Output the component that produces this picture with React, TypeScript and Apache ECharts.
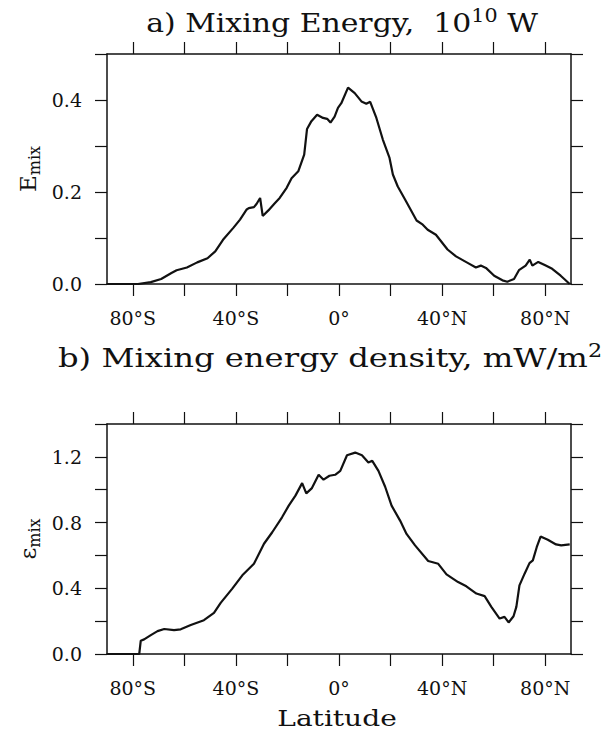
import React, { useEffect, useRef } from "react";
import * as echarts from "echarts";

// Panel a: mixing energy (10^10 W) vs latitude
const latA = [-90, -78, -73, -69, -65, -63, -59, -55, -51, -48, -45, -41, -38.4, -35.8, -35, -33, -32, -30.6, -29.6, -27.4, -25, -23, -20.3, -18.4, -15.8, -13.5, -12.4, -10.7, -8.5, -6.2, -4.6, -3.3, -1.7, -0.4, 0.9, 3.5, 6.1, 8.7, 10.6, 12.1, 14.5, 17, 19.6, 20.9, 22.8, 26, 30.1, 32.5, 34.4, 37.6, 42.1, 45.4, 49.9, 53.1, 55, 57, 60.2, 63.4, 65.3, 67.9, 69.8, 72.4, 74, 75, 77.3, 80.2, 82.7, 86, 89.5];
const eMix = [0, 0, 0.004, 0.011, 0.024, 0.03, 0.036, 0.047, 0.056, 0.071, 0.096, 0.122, 0.14, 0.162, 0.165, 0.167, 0.174, 0.187, 0.148, 0.16, 0.175, 0.187, 0.209, 0.23, 0.245, 0.281, 0.337, 0.354, 0.368, 0.361, 0.359, 0.351, 0.364, 0.383, 0.393, 0.427, 0.415, 0.397, 0.392, 0.396, 0.361, 0.314, 0.274, 0.238, 0.212, 0.18, 0.138, 0.129, 0.118, 0.107, 0.075, 0.06, 0.046, 0.036, 0.04, 0.035, 0.018, 0.008, 0.005, 0.011, 0.03, 0.04, 0.053, 0.04, 0.048, 0.04, 0.033, 0.018, 0];

// Panel b: mixing energy density (mW/m^2) vs latitude
const latB = [-90, -77.5, -76.9, -75.6, -73, -70.4, -67.8, -64, -61.4, -57.5, -52.4, -48.5, -45.9, -41.4, -37.5, -33, -29.1, -25.9, -22.1, -19.5, -16.9, -14.3, -12.7, -10.5, -7.9, -6, -3.7, -1.5, 0.5, 3.1, 6.3, 8.9, 11.4, 12.9, 15.3, 17.9, 20.4, 23.7, 26.2, 29.5, 34.6, 38.5, 41.7, 46.2, 49.4, 53.3, 56.5, 59.1, 62.3, 64.2, 65.8, 67.7, 68.8, 70, 72, 73.9, 75.2, 76.7, 78.2, 81, 84.2, 86.2, 89.5];
const epsMix = [0, 0, 0.081, 0.089, 0.115, 0.139, 0.152, 0.145, 0.15, 0.176, 0.206, 0.25, 0.311, 0.398, 0.479, 0.549, 0.671, 0.741, 0.832, 0.903, 0.964, 1.04, 0.978, 1.01, 1.091, 1.061, 1.085, 1.091, 1.115, 1.21, 1.226, 1.21, 1.166, 1.176, 1.115, 1.018, 0.903, 0.812, 0.731, 0.661, 0.566, 0.549, 0.485, 0.438, 0.412, 0.368, 0.352, 0.287, 0.216, 0.226, 0.192, 0.23, 0.287, 0.418, 0.489, 0.553, 0.57, 0.65, 0.715, 0.695, 0.667, 0.661, 0.667];

// Axis ticks and labels
const xTickValues = [-80, -60, -40, -20, 0, 20, 40, 60, 80];
const xLabelValues = [-80, -40, 0, 40, 80];

const FONT = "DejaVu Serif";
const BLACK = "#111";

const latFmt = (v: number) => (v < 0 ? `${-v}°S` : v > 0 ? `${v}°N` : "0°");

function xAxes(gridIndex: number) {
  const common = {
    type: "value" as const,
    gridIndex,
    min: -90,
    max: 90,
    splitLine: { show: false },
    axisLine: { show: true, onZero: false, lineStyle: { color: BLACK, width: 1.5 } },
    axisTick: { show: true, inside: false, length: 12, customValues: xTickValues, lineStyle: { color: BLACK, width: 1.2 } },
  };
  return [
    {
      ...common,
      position: "bottom",
      axisLabel: {
        show: true,
        customValues: xLabelValues,
        formatter: latFmt,
        margin: 24,
        fontFamily: FONT,
        fontSize: 19,
        color: BLACK,
      },
    },
    { ...common, position: "top", axisLabel: { show: false } },
  ];
}

function yAxes(gridIndex: number, max: number, interval: number, labelEvery: number) {
  const common = {
    type: "value" as const,
    gridIndex,
    min: 0,
    max,
    interval,
    splitLine: { show: false },
    axisLine: { show: true, onZero: false, lineStyle: { color: BLACK, width: 1.5 } },
    axisTick: { show: true, inside: false, length: 12, lineStyle: { color: BLACK, width: 1.2 } },
  };
  return [
    {
      ...common,
      position: "left",
      axisLabel: {
        show: true,
        margin: 25,
        fontFamily: FONT,
        fontSize: 19,
        color: BLACK,
        formatter: (v: number) => (Math.round(v / interval) % labelEvery === 0 ? v.toFixed(1) : ""),
      },
    },
    { ...common, position: "right", axisLabel: { show: false } },
  ];
}

export default function App() {
  const ref = useRef<HTMLDivElement>(null);
  useEffect(() => {
    if (!ref.current) return;
    const chart = echarts.init(ref.current, null, { renderer: "svg" });
    const richTitle = {
      t: { fontFamily: FONT, fontSize: 26, lineHeight: 32, fill: BLACK },
      s: { fontFamily: FONT, fontSize: 18, lineHeight: 18, verticalAlign: "top", fill: BLACK },
    };
    const richName = {
      e: { fontFamily: FONT, fontSize: 23, lineHeight: 28, fill: BLACK },
      sub: { fontFamily: FONT, fontSize: 16, lineHeight: 14, verticalAlign: "bottom", fill: BLACK },
    };
    chart.setOption({
      animation: false,
      backgroundColor: "#fff",
      grid: [
        { left: 107, top: 54, width: 464, height: 230 },
        { left: 107, top: 424, width: 464, height: 230 },
      ],
      xAxis: [...xAxes(0), ...xAxes(1)],
      yAxis: [...yAxes(0, 0.5, 0.1, 2), ...yAxes(1, 1.4, 0.2, 2)],
      series: [
        {
          type: "line",
          name: "E_mix",
          xAxisIndex: 0,
          yAxisIndex: 0,
          data: latA.map((x, i) => [x, eMix[i]]),
          showSymbol: false,
          lineStyle: { color: BLACK, width: 2.2 },
        },
        {
          type: "line",
          name: "eps_mix",
          xAxisIndex: 2,
          yAxisIndex: 2,
          data: latB.map((x, i) => [x, epsMix[i]]),
          showSymbol: false,
          lineStyle: { color: BLACK, width: 2.2 },
        },
      ],
      graphic: [
        {
          type: "text",
          x: 342,
          y: 23,
          scaleX: 1.15,
          style: {
            text: "{t|a) Mixing Energy,  10}{s|10}{t| W}",
            rich: richTitle,
            align: "center",
            verticalAlign: "middle",
          },
        },
        {
          type: "text",
          x: 330,
          y: 358,
          scaleX: 1.24,
          style: {
            text: "{t|b) Mixing energy density, mW/m}{s|2}",
            rich: richTitle,
            align: "center",
            verticalAlign: "middle",
          },
        },
        {
          type: "text",
          x: 337,
          y: 718,
          scaleX: 1.22,
          style: {
            text: "Latitude",
            fontFamily: FONT,
            fontSize: 23,
            fill: BLACK,
            align: "center",
            verticalAlign: "middle",
          },
        },
        {
          type: "text",
          x: 28,
          y: 169,
          rotation: Math.PI / 2,
          style: {
            text: "{e|E}{sub|mix}",
            rich: richName,
            align: "center",
            verticalAlign: "middle",
          },
        },
        {
          type: "text",
          x: 28,
          y: 539,
          rotation: Math.PI / 2,
          style: {
            text: "{e|ε}{sub|mix}",
            rich: richName,
            align: "center",
            verticalAlign: "middle",
          },
        },
      ],
    });
    return () => chart.dispose();
  }, []);
  return (
    <div
      ref={ref}
      style={{ position: "fixed", left: 0, top: 0, width: 602, height: 734, background: "#fff" }}
    />
  );
}
